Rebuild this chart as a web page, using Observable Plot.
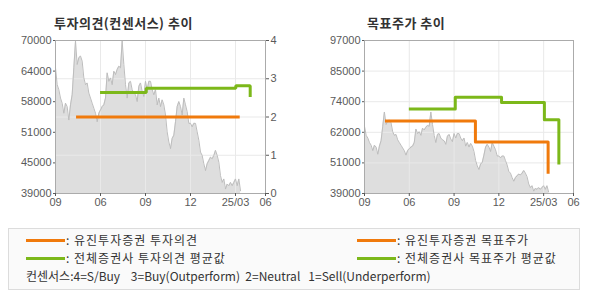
<!DOCTYPE html>
<html><head><meta charset="utf-8">
<script src="https://cdn.jsdelivr.net/npm/d3@7"></script>
<script src="https://cdn.jsdelivr.net/npm/@observablehq/plot@0.6"></script>
<style>
body{margin:0;width:590px;height:300px;background:#fff;position:relative;overflow:hidden;font-family:"Liberation Sans","Noto Sans CJK KR",sans-serif}
.title{position:absolute;top:14px;font-family:"Noto Sans CJK KR",sans-serif;font-weight:bold;font-size:13px;line-height:18px;color:#333;white-space:nowrap;letter-spacing:0.5px}
.chart{position:absolute;top:0}
.legend{position:absolute;left:8px;top:228px;width:572px;height:62px;border:1px solid #dcdcdc;background:#fafafa;box-sizing:border-box}
.sw{position:absolute;width:39px;height:3px}
.lt{position:absolute;font-family:"Noto Sans CJK KR",sans-serif;font-size:12px;line-height:16px;color:#333;white-space:pre;letter-spacing:1px}
.cons{position:absolute;left:26px;top:268px;font-family:"Noto Sans CJK KR",sans-serif;font-size:12px;line-height:15px;color:#333;white-space:pre}
</style>
</head><body>
<div class="title" style="left:54px">투자의견(컨센서스) 추이</div>
<div class="title" style="left:367px">목표주가 추이</div>
<div id="left" class="chart" style="left:0"></div>
<div id="right" class="chart" style="left:295px"></div>
<div class="legend"></div>
<div id="legendItems"></div>
<div class="cons" id="cons"></div>
<script>
// ---- data ----
const xTickMonths = [0, 3, 6, 9, 12, 14];
const xTickLabels = ["09", "06", "09", "12", "25/03", "06"];
const xDomain = [0, 14];

const priceStartMonth = 0;
const priceStepMonths = 1 / 9;
const prices = [
  64470, 61050, 60030, 58330, 57300, 55260, 57300, 56600, 53880, 56960,
  59000, 64470, 69900, 65140, 66520, 66850, 65820, 62420, 61050, 61400,
  59350, 58330, 57300, 56280, 55260, 53540, 55260, 55930, 56610, 56960,
  58330, 63450, 61730, 62420, 61050, 63780, 63100, 64120, 64800, 64470,
  69900, 65140, 61050, 58330, 61400, 61730, 60030, 59350, 59000, 57630,
  60710, 61400, 59680, 58660, 61730, 60030, 61730, 61730,
  60030, 59000, 60030, 56960, 58330, 56610, 57980, 56960, 54910, 51490,
  49440, 48090, 50140, 50810, 53540, 56610, 57630, 56610, 54910, 58330,
  56960, 55580, 53210, 53210, 52510, 53210, 53210, 51490, 49790, 47390,
  46720, 45020, 43650, 45020, 45700, 46370, 46040, 46720, 47740, 46720,
  45350, 42620, 41250, 41950, 39900, 40920, 40580, 41250, 40580, 41250,
  41950, 40580, 41950, 39550
];

const leftPriceDomain = [39000, 70000];
const leftPriceTickLabels = ["39000", "45000", "51000", "58000", "64000", "70000"];
const opinionTicks = [0, 1, 2, 3, 4];

const eugeneOpinionMonths = [1.37, 12.28];
const eugeneOpinion = [2, 2];
const avgOpinionMonths = [2.97, 6.05, 12.02, 12.98];
const avgOpinion = [2.64, 2.75, 2.82, 2.52];

const rightPriceDomain = [39000, 97000];
const rightPriceTickLabels = ["39000", "51000", "62000", "74000", "85000", "97000"];

const eugeneTargetMonths = [1.37, 7.43, 12.3];
const eugeneTarget = [66500, 58500, 46500];
const avgTargetMonths = [2.97, 6.08, 9.18, 12.05, 13.02];
const avgTarget = [71000, 75500, 73500, 67000, 50000];

const seriesNames = ["유진투자증권 투자의견", "전체증권사 투자의견 평균값", "유진투자증권 목표주가", "전체증권사 목표주가 평균값"];
const consensusText = "컨센서스:4=S/Buy    3=Buy(Outperform)  2=Neutral   1=Sell(Underperform)";

const ORANGE = "#f07a0c";
const GREEN = "#7cb81a";

// ---- build ----
const priceData = prices.map((p, i) => ({m: priceStartMonth + i * priceStepMonths, p}));
const evenTicks = (dom, n) => d3.range(n).map(i => dom[0] + i * (dom[1] - dom[0]) / (n - 1));
const gridMonths = xTickMonths.slice(1, -1);
const fmtX = d => xTickLabels[xTickMonths.indexOf(d)];
const style = {fontSize: "11px", fontFamily: '"Liberation Sans","Noto Sans CJK KR",sans-serif', color: "#5a5a5a", background: "transparent", overflow: "visible"};
const gridStyle = {stroke: "#e9e9e9", strokeOpacity: 1, strokeWidth: 1};

function baseMarks(domain, hGrid) {
  return [
    Plot.areaY(priceData, {x: "m", y1: domain[0], y2: "p", fill: "#dedede"}),
    Plot.gridY(hGrid, gridStyle),
    Plot.gridX(gridMonths, gridStyle),
    Plot.line(priceData, {x: "m", y: "p", stroke: "#bdbdbd", strokeWidth: 1})
  ];
}

// Left chart (opinion)
const leftTicks = evenTicks(leftPriceDomain, leftPriceTickLabels.length);
const op2p = v => leftPriceDomain[0] + (v - opinionTicks[0]) * (leftPriceDomain[1] - leftPriceDomain[0]) / (opinionTicks[opinionTicks.length - 1] - opinionTicks[0]);
const opTickPos = opinionTicks.map(op2p);
const eugOpData = eugeneOpinionMonths.map((m, i) => ({m, v: op2p(eugeneOpinion[i])}));
const avgOpData = avgOpinionMonths.map((m, i) => ({m, v: op2p(avgOpinion[i])}));

const left = Plot.plot({
  width: 295, height: 215, marginLeft: 55, marginRight: 30, marginTop: 40, marginBottom: 22,
  style,
  x: {domain: xDomain, label: null},
  y: {domain: leftPriceDomain, label: null},
  marks: [
    ...baseMarks(leftPriceDomain, opTickPos),
    Plot.line(avgOpData, {x: "m", y: "v", stroke: GREEN, strokeWidth: 3, curve: "step-after", strokeLinejoin: "miter", strokeLinecap: "butt"}),
    Plot.line(eugOpData, {x: "m", y: "v", stroke: ORANGE, strokeWidth: 3, curve: "step-after", strokeLinecap: "butt"}),
    Plot.frame({stroke: "#ababab"}),
    Plot.axisY(leftTicks, {anchor: "left", tickSize: 2, tickPadding: 2, label: null, tickFormat: d => leftPriceTickLabels[leftTicks.indexOf(d)]}),
    Plot.axisY(opTickPos, {anchor: "right", tickSize: 3, tickPadding: 2, label: null, tickFormat: d => String(opinionTicks[opTickPos.indexOf(d)])}),
    Plot.axisX(xTickMonths, {anchor: "bottom", tickSize: 3, tickPadding: 2, label: null, tickFormat: fmtX})
  ]
});
document.getElementById("left").append(left);

// Right chart (target price)
const rightTicks = evenTicks(rightPriceDomain, rightPriceTickLabels.length);
const eugTgtData = eugeneTargetMonths.map((m, i) => ({m, v: eugeneTarget[i]}));
const avgTgtData = avgTargetMonths.map((m, i) => ({m, v: avgTarget[i]}));

const right = Plot.plot({
  width: 295, height: 215, marginLeft: 69, marginRight: 17, marginTop: 40, marginBottom: 22,
  style,
  x: {domain: xDomain, label: null},
  y: {domain: rightPriceDomain, label: null},
  marks: [
    ...baseMarks(rightPriceDomain, rightTicks),
    Plot.line(avgTgtData, {x: "m", y: "v", stroke: GREEN, strokeWidth: 3, curve: "step-after", strokeLinecap: "butt"}),
    Plot.line(eugTgtData, {x: "m", y: "v", stroke: ORANGE, strokeWidth: 3, curve: "step-after", strokeLinecap: "butt"}),
    Plot.frame({stroke: "#ababab"}),
    Plot.axisY(rightTicks, {anchor: "left", tickSize: 2, tickPadding: 2, label: null, tickFormat: d => rightPriceTickLabels[rightTicks.indexOf(d)]}),
    Plot.axisX(xTickMonths, {anchor: "bottom", tickSize: 3, tickPadding: 2, label: null, tickFormat: fmtX})
  ]
});
document.getElementById("right").append(right);

// Legend
const legendSpec = [
  {name: seriesNames[0], color: ORANGE, x: 26, y: 240},
  {name: seriesNames[1], color: GREEN, x: 26, y: 258},
  {name: seriesNames[2], color: ORANGE, x: 357, y: 240},
  {name: seriesNames[3], color: GREEN, x: 357, y: 258}
];
const li = document.getElementById("legendItems");
for (const s of legendSpec) {
  const sw = document.createElement("div");
  sw.className = "sw";
  sw.style.left = s.x + "px"; sw.style.top = (s.y - 1) + "px"; sw.style.background = s.color;
  li.append(sw);
  const t = document.createElement("div");
  t.className = "lt";
  t.style.left = (s.x + 40) + "px"; t.style.top = (s.y - 8) + "px";
  t.textContent = ": " + s.name;
  li.append(t);
}
document.getElementById("cons").textContent = consensusText;
</script>
</body></html>
